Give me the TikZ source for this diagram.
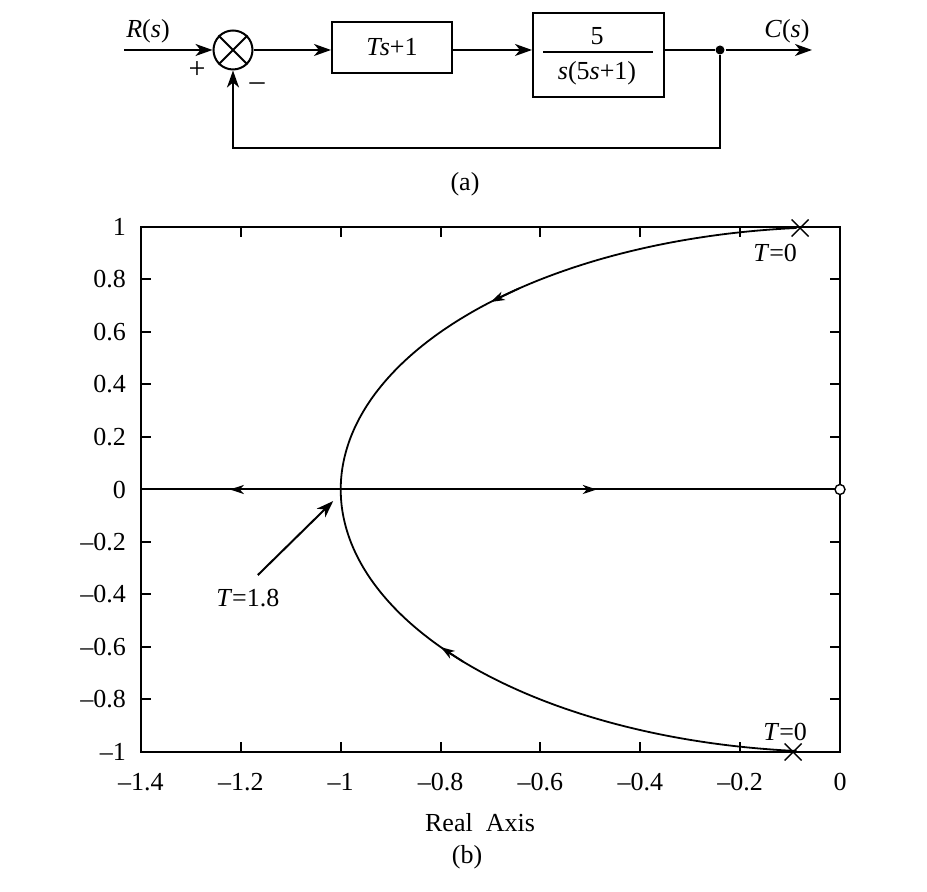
\documentclass[tikz,border=0pt]{standalone}
\usepackage{fontspec}
\setmainfont{Liberation Serif}
\usetikzlibrary{arrows.meta}
\begin{document}
\begin{tikzpicture}[x=0.5pt,y=0.5pt,
  line width=1pt,
  lbl/.style={inner sep=0pt, font=\fontsize{13}{15}\selectfont},
  blk/.style={draw, line width=1pt, inner sep=0pt, font=\fontsize{13}{15}\selectfont},
  arr/.style={-{Stealth[length=8.5pt,width=6pt,inset=2.5pt]}},
  sarr/.style={-{Stealth[length=7pt,width=4.5pt,inset=2pt]}},
  crossline/.style={line width=0.7pt},
]
\useasboundingbox (0,0) rectangle (927,892);

% ---------- block diagram (a) ----------
\coordinate (in) at (124,842);
\node[draw, circle, minimum size=19.5pt, inner sep=0pt, line width=1pt] (sum) at (233,842) {};
\draw (sum.north east) -- (sum.south west) (sum.north west) -- (sum.south east);

\node[blk, minimum width=60pt, minimum height=25.5pt] (b1) at (392,844.5) {\textit{T\kern-0.5pt s}+1};
\node[blk, minimum width=65.5pt, minimum height=42pt] (b2) at (598.5,837) {};
\node[lbl] (num) at (597,856) {5};
\node[lbl] (den) at (597,819) {\textit{s}(5\textit{s}+1)};
\coordinate (barL) at (543,840);
\coordinate (barR) at (653,840);
\draw (barL) -- (barR);

\node[circle, fill, inner sep=0pt, minimum size=4.5pt] (dot) at (720,842) {};
\coordinate (out) at (812,842);
\coordinate (fbR) at (720,744);
\coordinate (fbL) at (233,744);

\draw[arr] (in) -- (sum.west);
\draw[arr] (sum.east) -- (sum.east -| b1.west);
\draw[arr] (b1.east |- in) -- (b2.west |- in);
\draw (b2.east |- in) -- (dot);
\draw[arr] (dot) -- (out);
\draw[arr] (dot) -- (fbR) -- (fbL) -- (sum.south);

\node[lbl] (R) at (148,861) {\textit{R}(\textit{s})};
\node[lbl] (C) at (787,861) {\textit{C}(\textit{s})};
\node[lbl, font=\fontsize{15}{17}\selectfont] (plus) at (197,822) {+};
\node[lbl, font=\fontsize{15}{17}\selectfont] (minus) at (257,805) {\textendash};
\node[lbl] (capa) at (465,708) {(a)};

% ---------- root locus (b) ----------
\begin{scope}[shift={(420pt,201.25pt)}, x=249.65pt, y=131.25pt]
  \draw (-1.4,-1) rectangle (0,1);
  \foreach \i in {1,...,6} {
    \draw (-1.4+0.2*\i,-1) -- ++(0,5pt);
    \draw (-1.4+0.2*\i,1) -- ++(0,-5pt);
  }
  \foreach \j in {1,...,9} {
    \draw (-1.4,-1+0.2*\j) -- ++(5pt,0);
    \draw (0,-1+0.2*\j) -- ++(-5pt,0);
  }
  \foreach \v/\t [count=\k] in {-1.4/\textendash1.4,-1.2/\textendash1.2,-1/\textendash1,-0.8/\textendash0.8,-0.6/\textendash0.6,-0.4/\textendash0.4,-0.2/\textendash0.2,0/0}
    \node[lbl] (xt\k) at ([yshift=-15pt]\v,-1) {\t};
  \foreach \v/\t [count=\k] in {1/1,0.8/0.8,0.6/0.6,0.4/0.4,0.2/0.2,0/0,-0.2/\textendash0.2,-0.4/\textendash0.4,-0.6/\textendash0.6,-0.8/\textendash0.8,-1/\textendash1}
    \node[lbl, anchor=east] (yt\k) at ([xshift=-7pt]-1.4,\v) {\t};

  % real axis locus
  \draw (-1.4,0) -- (0,0);
  \draw[sarr] (-1.15,0) -- (-1.222,0);
  \draw[sarr] (-0.56,0) -- (-0.487,0);

  % complex branches
  \draw[line width=0.9pt] plot[domain=95:265, samples=150, smooth] ({cos(\x)},{sin(\x)});
  \draw[sarr, line width=0.9pt] ({cos(130)},{sin(130)}) -- ({cos(134.4)},{sin(134.4)});
  \draw[sarr, line width=0.9pt] ({cos(221)},{sin(221)}) -- ({cos(216.9)},{sin(216.9)});

  % poles and zero
  \coordinate (p1) at (-0.08,0.996);
  \coordinate (p2) at (-0.094,-1.0);
  \draw[crossline] ([shift={(-4.25pt,-4.25pt)}]p1) -- ([shift={(4.25pt,4.25pt)}]p1);
  \draw[crossline] ([shift={(-4.25pt,4.25pt)}]p1) -- ([shift={(4.25pt,-4.25pt)}]p1);
  \draw[crossline] ([shift={(-4.25pt,-4.25pt)}]p2) -- ([shift={(4.25pt,4.25pt)}]p2);
  \draw[crossline] ([shift={(-4.25pt,4.25pt)}]p2) -- ([shift={(4.25pt,-4.25pt)}]p2);
  \node[circle, draw, fill=white, minimum size=5pt, inner sep=0pt, line width=0.7pt] (zero) at (0,0) {};

  % labels
  \node[lbl] (t0a) at (-0.130,0.901) {\textit{T}=0};
  \node[lbl] (t0b) at (-0.110,-0.924) {\textit{T}=0};
  \node[lbl] (t18) at (-1.186,-0.413) {\textit{T}=1.8};
  \coordinate (t18tail) at (-1.166,-0.326);
  \coordinate (t18head) at (-1.015,-0.044);
  \draw[arr] (t18tail) -- (t18head);
\end{scope}

\node[lbl] (xlab) at (480,69) {Real\ \ Axis};
\node[lbl] (capb) at (467,35) {(b)};
\end{tikzpicture}
\end{document}
